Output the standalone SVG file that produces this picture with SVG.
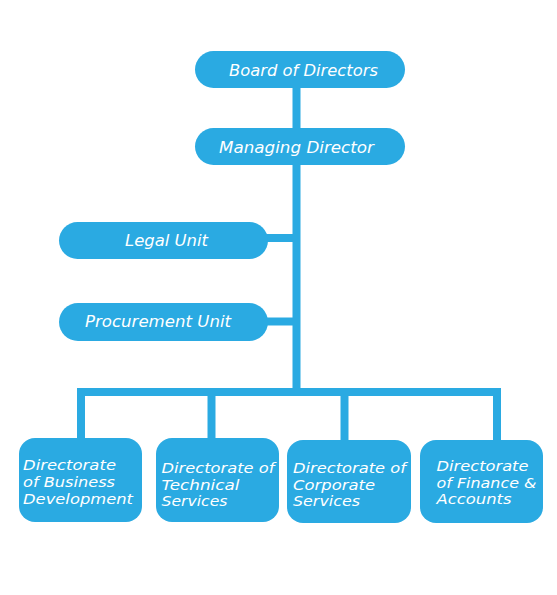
<svg xmlns="http://www.w3.org/2000/svg" width="557" height="595" viewBox="0 0 557 595">
<style>
.n{fill:#2AAAE2}
.t{fill:#fff;font-family:"DejaVu Sans",sans-serif;font-style:italic}
.big{font-size:16px}
.sm{font-size:14px}
.c{fill:none;stroke:#2AAAE2;stroke-width:8;stroke-linejoin:miter}
</style>
<rect width="557" height="595" fill="#fff"/>
<g id="connectors">
<path class="c" d="M296.5,88 V392"/>
<path class="c" d="M266,238 H296.5"/>
<path class="c" d="M266,321.5 H296.5"/>
<path class="c" d="M81,440 V392 H497 V442"/>
<path class="c" d="M211.5,392 V440"/>
<path class="c" d="M344.5,392 V442"/>
</g>
<g id="board">
<rect class="n" x="195" y="51" width="210" height="37" rx="18.5"/>
<text class="t big" x="229" y="76" textLength="149" lengthAdjust="spacingAndGlyphs">Board of Directors</text>
</g>
<g id="md">
<rect class="n" x="195" y="128" width="210" height="37" rx="18.5"/>
<text class="t big" x="219" y="153" textLength="155" lengthAdjust="spacingAndGlyphs">Managing Director</text>
</g>
<g id="legal">
<rect class="n" x="59" y="222" width="209" height="37" rx="18.5"/>
<text class="t big" x="125" y="246" textLength="83" lengthAdjust="spacingAndGlyphs">Legal Unit</text>
</g>
<g id="procurement">
<rect class="n" x="59" y="303" width="209" height="38" rx="19"/>
<text class="t big" x="85" y="327" textLength="146" lengthAdjust="spacingAndGlyphs">Procurement Unit</text>
</g>
<g id="dir-business">
<rect class="n" x="19" y="438" width="123" height="84" rx="16"/>
<text class="t sm" x="23" y="470" textLength="93" lengthAdjust="spacingAndGlyphs">Directorate</text>
<text class="t sm" x="23" y="487" textLength="92" lengthAdjust="spacingAndGlyphs">of Business</text>
<text class="t sm" x="23" y="504" textLength="110" lengthAdjust="spacingAndGlyphs">Development</text>
</g>
<g id="dir-technical">
<rect class="n" x="156" y="438" width="123" height="84" rx="16"/>
<text class="t sm" x="161.5" y="472.5" textLength="113" lengthAdjust="spacingAndGlyphs">Directorate of</text>
<text class="t sm" x="161.5" y="489.5" textLength="78" lengthAdjust="spacingAndGlyphs">Technical</text>
<text class="t sm" x="161.5" y="506" textLength="66" lengthAdjust="spacingAndGlyphs">Services</text>
</g>
<g id="dir-corporate">
<rect class="n" x="287" y="440" width="124" height="83" rx="16"/>
<text class="t sm" x="293" y="472.5" textLength="113" lengthAdjust="spacingAndGlyphs">Directorate of</text>
<text class="t sm" x="293" y="489.5" textLength="82" lengthAdjust="spacingAndGlyphs">Corporate</text>
<text class="t sm" x="293" y="506" textLength="67" lengthAdjust="spacingAndGlyphs">Services</text>
</g>
<g id="dir-finance">
<rect class="n" x="420" y="440" width="123" height="83" rx="16"/>
<text class="t sm" x="436.5" y="470.5" textLength="92" lengthAdjust="spacingAndGlyphs">Directorate</text>
<text class="t sm" x="436.5" y="487.5" textLength="100" lengthAdjust="spacingAndGlyphs">of Finance &amp;</text>
<text class="t sm" x="436.5" y="504" textLength="75" lengthAdjust="spacingAndGlyphs">Accounts</text>
</g>
</svg>
